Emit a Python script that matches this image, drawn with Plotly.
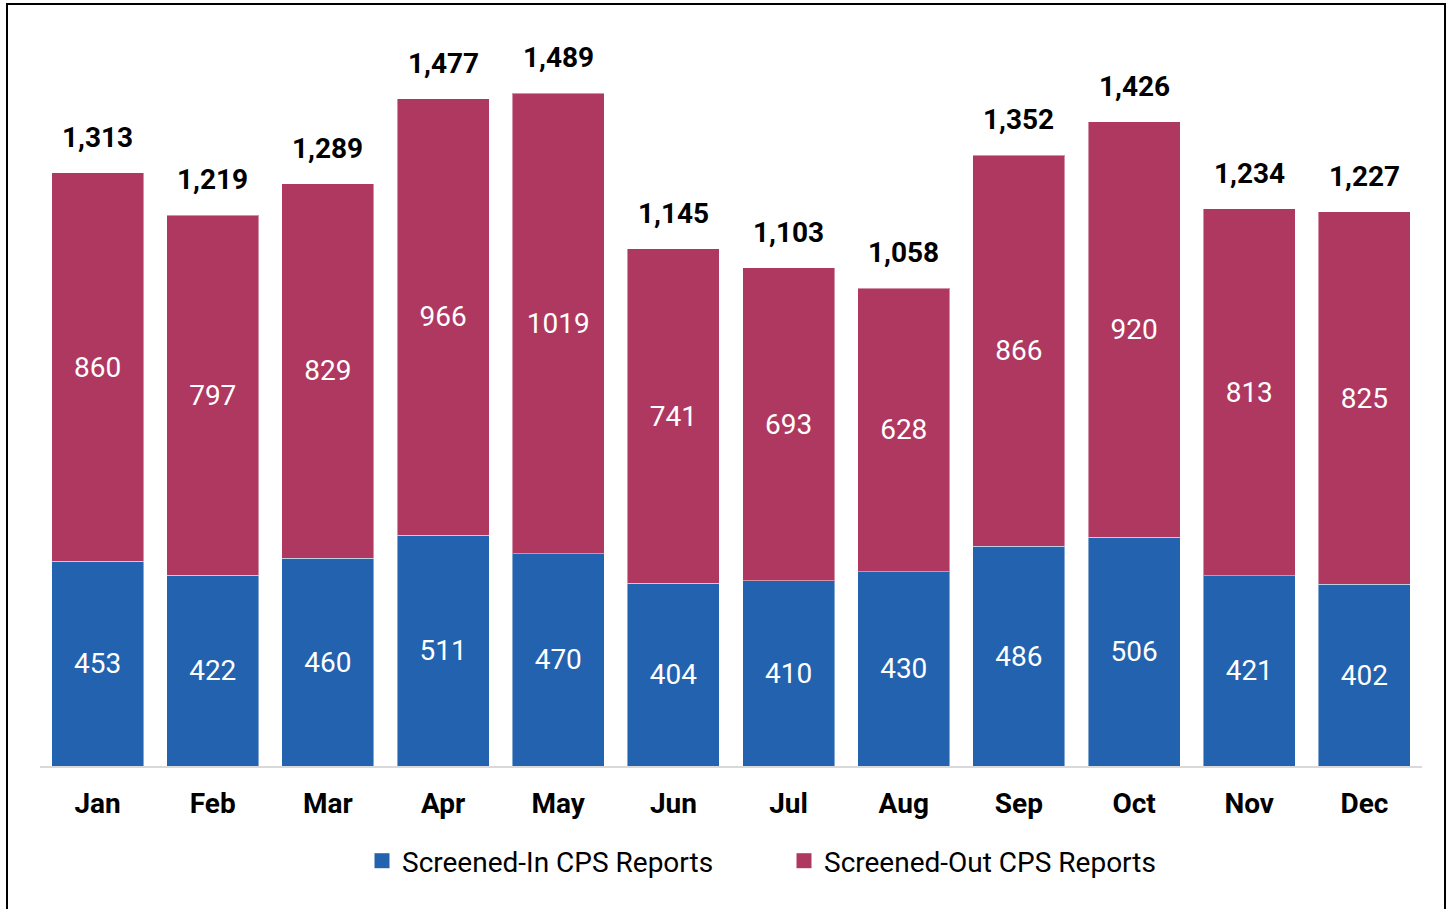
import plotly.graph_objects as go

months = ["Jan", "Feb", "Mar", "Apr", "May", "Jun", "Jul", "Aug", "Sep", "Oct", "Nov", "Dec"]
screened_in = [453, 422, 460, 511, 470, 404, 410, 430, 486, 506, 421, 402]
screened_out = [860, 797, 829, 966, 1019, 741, 693, 628, 866, 920, 813, 825]
totals = [a + b for a, b in zip(screened_in, screened_out)]
series_names = ["Screened-In CPS Reports", "Screened-Out CPS Reports"]

BLUE = "#2262AE"
RED = "#AF3860"
FONT = "Roboto"
FS = 28

fig = go.Figure()
for vals, name, col in [(screened_in, series_names[0], BLUE), (screened_out, series_names[1], RED)]:
    fig.add_trace(go.Bar(
        x=months, y=vals, name=name, showlegend=False,
        marker=dict(color=col, line=dict(color="rgba(255,255,255,0.45)", width=1)),
        text=[str(v) for v in vals], textposition="inside", insidetextanchor="middle",
        textangle=0, textfont=dict(color="white", size=FS, family=FONT),
    ))
# legend entries with square swatches
for name, col in [(series_names[0], BLUE), (series_names[1], RED)]:
    fig.add_trace(go.Scatter(x=[None], y=[None], mode="markers", name=name,
                             marker=dict(symbol="square", size=15, color=col)))

for m, t in zip(months, totals):
    fig.add_annotation(x=m, y=t, text=f"<b>{t:,}</b>", showarrow=False,
                       yanchor="bottom", yshift=17,
                       font=dict(size=FS, color="black", family=FONT))

L, R, T, B = 40, 31, 40, 143
W, H = 1453, 909
pw, ph = W - L - R, H - T - B
def px_x(x): return (x - L) / pw
def px_y(y): return (H - B - y) / ph

fig.add_shape(type="rect", xref="paper", yref="paper",
              x0=px_x(7), x1=px_x(1445), y0=px_y(930), y1=px_y(4),
              line=dict(color="black", width=2), fillcolor="rgba(0,0,0,0)", layer="below")

fig.update_layout(
    width=W, height=H, barmode="stack", bargap=0.2,
    margin=dict(l=L, r=R, t=T, b=B, autoexpand=False),
    paper_bgcolor="white", plot_bgcolor="white",
    font=dict(family=FONT, color="black"),
    uniformtext=dict(minsize=FS, mode="show"),
    xaxis=dict(showline=True, linecolor="#D9D9D9", linewidth=2, ticks="outside",
               ticklen=11, tickcolor="rgba(0,0,0,0)",
               tickfont=dict(size=FS, family=FONT, color="black"),
               tickvals=months, ticktext=[f"<b>{m}</b>" for m in months],
               range=[-0.5, 11.5]),
    yaxis=dict(visible=False, range=[0, 1607], showgrid=False),
    legend=dict(orientation="h", x=px_x(362), xanchor="left", y=px_y(836), yanchor="top",
                font=dict(size=FS, family=FONT, color="black"), entrywidth=377,
                traceorder="normal", bgcolor="rgba(0,0,0,0)"),
    showlegend=True,
)

fig.write_html("out.html", config={"displayModeBar": False})
with open("out.html", "r", encoding="utf-8") as f:
    html = f.read()
html = html.replace("<head>", "<head><style>html,body{margin:0;padding:0;overflow:hidden;}</style>", 1)
with open("out.html", "w", encoding="utf-8") as f:
    f.write(html)
